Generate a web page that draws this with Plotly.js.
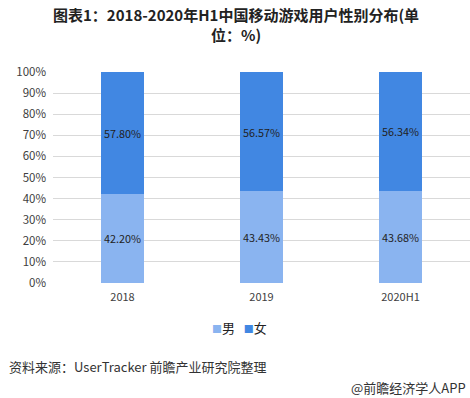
<!DOCTYPE html>
<html><head><meta charset="utf-8">
<script src="https://cdn.plot.ly/plotly-3.0.1.min.js"></script>
<style>body{margin:0;background:#fff}#c{width:470px;height:398px}</style>
</head><body><div id="c"></div>
<script>
const categories = ['2018', '2019', '2020H1'];
const male = [42.20, 43.43, 43.68];
const female = [57.80, 56.57, 56.34];
const seriesNames = ['男', '女'];
const yTicks = [0,10,20,30,40,50,60,70,80,90,100];
const yTickText = yTicks.map(v => v + '%');

const colors = ['#8AB4F0', '#4187E2'];
const font = '"Noto Sans CJK SC", "Noto Sans", sans-serif';
const fmt = a => a.map(v => v.toFixed(2) + '%');

const traces = [male, female].map((vals, i) => ({
  type:'bar', name:seriesNames[i], x:categories, y:vals, marker:{color:colors[i]},
  text:fmt(vals), textposition:'inside', insidetextanchor:'middle', textangle:0,
  textfont:{size:12, color:'#222', family:font}, hoverinfo:'skip'
}));

const legendText = seriesNames.map((n, i) =>
  '<span style="color:' + colors[i] + ';font-size:10px">■</span>' + n).join('   ');

const layout = {
  width:470, height:398,
  margin:{l:53, r:0, t:72, b:115},
  barmode:'stack', bargap:0.69,
  paper_bgcolor:'#fff', plot_bgcolor:'#fff',
  font:{family:font, color:'#404040', size:11},
  showlegend:false,
  xaxis:{type:'category', showgrid:false, zeroline:false, showline:false,
    tickfont:{size:11, color:'#404040'}, ticks:'', ticklabelstandoff:6},
  yaxis:{range:[0,100], tickvals:yTicks, ticktext:yTickText, showgrid:true,
    gridcolor:'#d9d9d9', gridwidth:1, zeroline:false, showline:false,
    tickfont:{size:11.5, color:'#404040'}, ticks:'', ticklabelstandoff:6},
  annotations:[
    {text:'<b>图表1：2018-2020年H1中国移动游戏用户性别分布(单<br>位：%)</b>', xref:'paper', yref:'paper',
     x:0.44, y:1, yshift:70, xanchor:'center', yanchor:'top', showarrow:false,
     font:{size:15, color:'#222', family:font}},
    {text:legendText, xref:'paper', yref:'paper',
     x:0.447, y:0, yshift:-33, xanchor:'center', yanchor:'top', showarrow:false,
     font:{size:13, color:'#222', family:font}},
    {text:'资料来源：UserTracker 前瞻产业研究院整理', xref:'paper', yref:'paper',
     x:0, xshift:-46, y:0, yshift:-72, xanchor:'left', yanchor:'top', showarrow:false,
     font:{size:13, color:'#333', family:font}},
    {text:'@前瞻经济学人APP', xref:'paper', yref:'paper',
     x:1, xshift:-2, y:0, yshift:-93, xanchor:'right', yanchor:'top', showarrow:false,
     font:{size:13, color:'#333', family:font}}
  ]
};
Plotly.newPlot('c', traces, layout, {displayModeBar:false, staticPlot:true});
</script></body></html>
